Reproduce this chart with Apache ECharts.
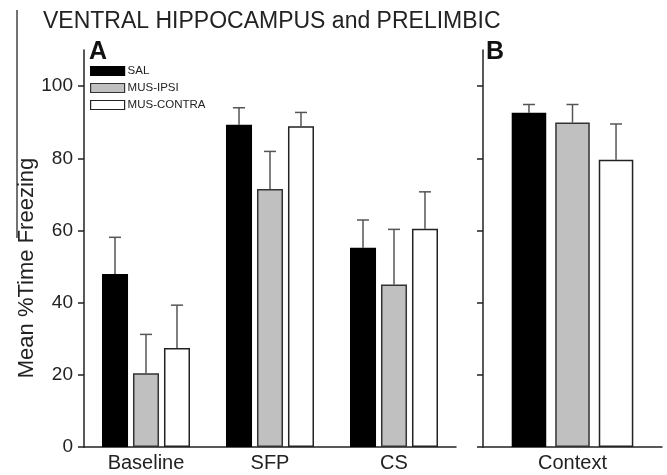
<!DOCTYPE html>
<html>
<head>
<meta charset="utf-8">
<script src="https://cdn.jsdelivr.net/npm/echarts@6/dist/echarts.min.js"></script>
<style>html,body{margin:0;padding:0;background:#fff;}#c{width:667px;height:475px;}</style>
</head>
<body>
<div id="c"></div>
<script>
// ---- data ----
var categoriesA = ['Baseline', 'SFP', 'CS'];
var categoriesB = ['Context'];
var groupNames = ['SAL', 'MUS-IPSI', 'MUS-CONTRA'];
var salA = [47.9, 89.3, 55.2];
var ipsiA = [20.4, 71.5, 45.0];
var contraA = [27.4, 88.9, 60.5];
var salSemA = [10.2, 4.7, 7.7];
var ipsiSemA = [10.8, 10.4, 15.3];
var contraSemA = [11.9, 3.8, 10.2];
var salB = [92.6];
var ipsiB = [89.9];
var contraB = [79.6];
var salSemB = [2.3];
var ipsiSemB = [5.0];
var contraSemB = [9.9];
var yTicks = [0, 20, 40, 60, 80, 100];

var FONT = "'Liberation Sans', Arial, Helvetica, sans-serif";
var fills = ['#000000', '#c0c0c0', '#ffffff'];
var borders = ['#000000', '#333333', '#222222'];

var chart = echarts.init(document.getElementById('c'), null, {renderer: 'canvas'});

function errSeries(gridIdx, means, sems, k, n, barPct, gapPct) {
  var data = means.map(function (m, i) { return [i, m, m + sems[i]]; });
  return {
    type: 'custom',
    xAxisIndex: gridIdx, yAxisIndex: gridIdx,
    z: 1,
    silent: true,
    renderItem: function (params, api) {
      var band = api.size([1, 0])[0];
      var bw = band * barPct;
      var gap = bw * gapPct;
      var total = n * bw + (n - 1) * gap;
      var c = api.coord([api.value(0), api.value(1)]);
      var t = api.coord([api.value(0), api.value(2)]);
      var x = c[0] - total / 2 + bw / 2 + k * (bw + gap);
      var cap = 6;
      return {
        type: 'group',
        children: [
          {type: 'line', shape: {x1: x, y1: c[1], x2: x, y2: t[1]}, style: {stroke: '#555', lineWidth: 1.5}},
          {type: 'line', shape: {x1: x - cap, y1: t[1], x2: x + cap, y2: t[1]}, style: {stroke: '#555', lineWidth: 1.5}}
        ]
      };
    },
    data: data
  };
}

var barPctA = 0.21, gapPctA = 0.19;
var barPctB = 0.193, gapPctB = 0.26;

function barSeries(gridIdx, name, data, k, barPct, gapPct) {
  return {
    type: 'bar', name: name,
    xAxisIndex: gridIdx, yAxisIndex: gridIdx,
    data: data,
    barWidth: (barPct * 100) + '%',
    barGap: (gapPct * 100) + '%',
    z: 2,
    itemStyle: {color: fills[k], borderColor: borders[k], borderWidth: 1.5},
    emphasis: {disabled: true}
  };
}

function yAxis(gridIdx, showLabels) {
  return {
    type: 'value', gridIndex: gridIdx, min: 0, max: 110,
    axisLine: {show: true, lineStyle: {color: '#222', width: 1.5}},
    axisTick: {show: true, length: 6, inside: false, customValues: yTicks, lineStyle: {color: '#222', width: 1.5}},
    axisLabel: {show: showLabels, customValues: yTicks, margin: 11, fontFamily: FONT, fontSize: 19, color: '#222'},
    splitLine: {show: false}
  };
}

function xAxis(gridIdx, cats) {
  return {
    type: 'category', gridIndex: gridIdx, data: cats,
    axisLine: {show: true, lineStyle: {color: '#222', width: 1.5}},
    axisTick: {show: false},
    axisLabel: {margin: 6, fontFamily: FONT, fontSize: 20, color: '#222'},
    splitLine: {show: false}
  };
}

var option = {
  animation: false,
  backgroundColor: '#fff',
  title: {
    text: 'VENTRAL HIPPOCAMPUS and PRELIMBIC',
    left: 38, top: 5,
    textStyle: {fontFamily: FONT, fontSize: 23, fontWeight: 'normal', color: '#222'}
  },
  legend: {
    orient: 'vertical', left: 90, top: 65, padding: 0,
    itemWidth: 34, itemHeight: 9, itemGap: 5,
    icon: 'rect',
    selectedMode: false,
    textStyle: {fontFamily: FONT, fontSize: 11.5, color: '#222', padding: [0, 0, 0, -2]},
    data: groupNames.map(function (g, k) {
      return {name: g, itemStyle: {color: fills[k], borderColor: borders[k], borderWidth: 1.2}};
    })
  },
  grid: [
    {left: 84, right: 211, top: 50, bottom: 28},
    {left: 483, right: 5, top: 50, bottom: 28}
  ],
  xAxis: [xAxis(0, categoriesA), xAxis(1, categoriesB)],
  yAxis: [yAxis(0, true), yAxis(1, false)],
  graphic: [
    {type: 'line', shape: {x1: 17, y1: 10, x2: 17, y2: 238}, style: {stroke: '#444', lineWidth: 1.5}, silent: true},
    {type: 'text', x: 27, y: 268, rotation: Math.PI / 2, style: {text: 'Mean %Time Freezing', font: '22px ' + FONT, fill: '#222', align: 'center', verticalAlign: 'middle'}},
    {type: 'text', left: 89, top: 40, style: {text: 'A', font: 'bold 25px ' + FONT, fill: '#111'}},
    {type: 'text', left: 486, top: 40, style: {text: 'B', font: 'bold 25px ' + FONT, fill: '#111'}}
  ],
  series: [
    barSeries(0, 'SAL', salA, 0, barPctA, gapPctA),
    barSeries(0, 'MUS-IPSI', ipsiA, 1, barPctA, gapPctA),
    barSeries(0, 'MUS-CONTRA', contraA, 2, barPctA, gapPctA),
    errSeries(0, salA, salSemA, 0, 3, barPctA, gapPctA),
    errSeries(0, ipsiA, ipsiSemA, 1, 3, barPctA, gapPctA),
    errSeries(0, contraA, contraSemA, 2, 3, barPctA, gapPctA),
    barSeries(1, 'SAL', salB, 0, barPctB, gapPctB),
    barSeries(1, 'MUS-IPSI', ipsiB, 1, barPctB, gapPctB),
    barSeries(1, 'MUS-CONTRA', contraB, 2, barPctB, gapPctB),
    errSeries(1, salB, salSemB, 0, 3, barPctB, gapPctB),
    errSeries(1, ipsiB, ipsiSemB, 1, 3, barPctB, gapPctB),
    errSeries(1, contraB, contraSemB, 2, 3, barPctB, gapPctB)
  ]
};
chart.setOption(option);
</script>
</body>
</html>
